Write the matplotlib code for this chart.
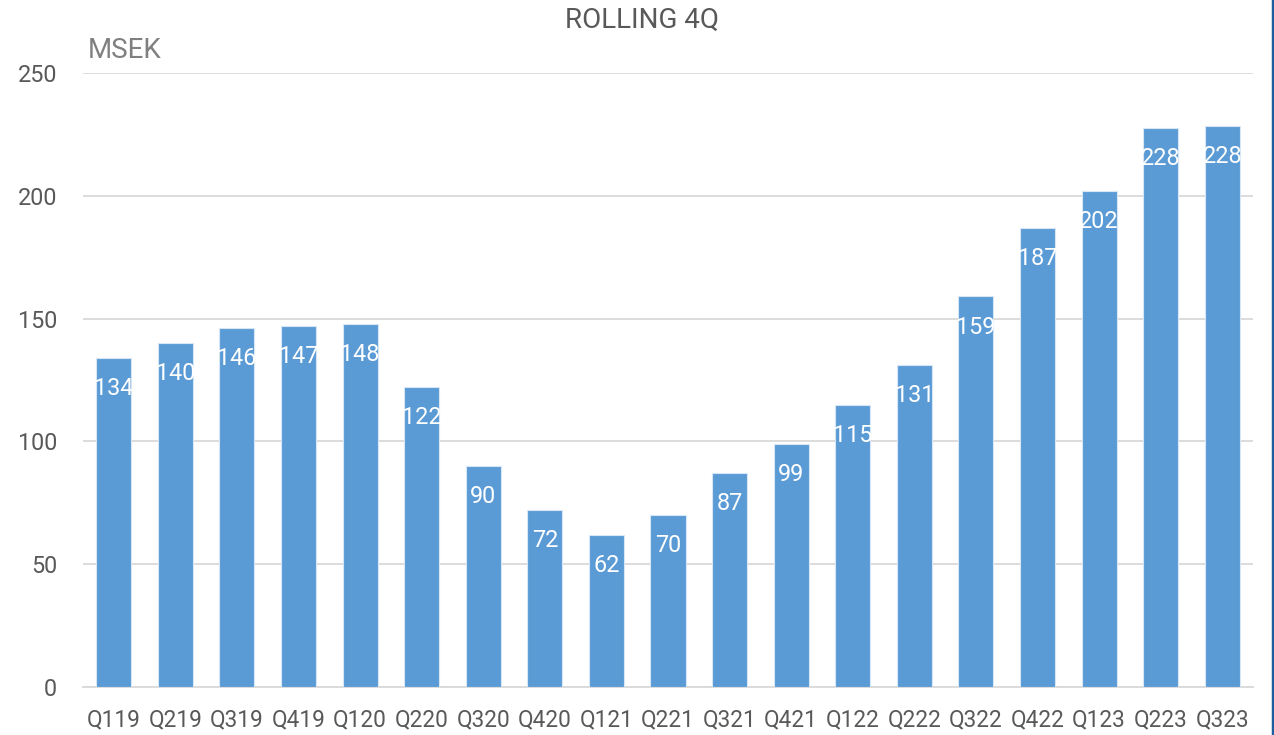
import matplotlib
matplotlib.use("Agg")
import matplotlib.pyplot as plt
from matplotlib.lines import Line2D

categories = ["Q119", "Q219", "Q319", "Q419", "Q120", "Q220", "Q320", "Q420", "Q121",
              "Q221", "Q321", "Q421", "Q122", "Q222", "Q322", "Q422", "Q123", "Q223", "Q323"]
values = [134, 140, 146, 147, 148, 122, 90, 72, 62, 70, 87, 99, 115, 131, 159, 187, 202, 227.6, 228.4]
yticks = [0, 50, 100, 150, 200, 250]

plt.rcParams["font.family"] = ["Roboto", "DejaVu Sans"]

W, H = 1274, 735
fig = plt.figure(figsize=(W / 100, H / 100), dpi=100)
ax = fig.add_axes([83 / W, 1 - 687 / H, (1253 - 83) / W, (687 - 73) / H])

x = list(range(len(categories)))
bars = ax.bar(x, values, width=0.57, color="#5B9BD5", edgecolor="#d6e6f5", linewidth=0.8, zorder=3)
ax.set_xlim(-0.5, len(categories) - 0.5)
ax.set_ylim(0, 250)
ax.set_yticks(yticks)
ax.set_xticks(x)
ax.set_xticklabels(categories)
ax.grid(axis="y", color="#d9d9d9", linewidth=1.3, zorder=0)
for s in ["top", "right", "left"]:
    ax.spines[s].set_visible(False)
ax.spines["bottom"].set_color("#d9d9d9")
ax.spines["bottom"].set_linewidth(1.3)
ax.tick_params(axis="both", length=0, colors="#595959")
ax.tick_params(axis="x", labelsize=16.3, pad=15)
ax.tick_params(axis="y", labelsize=16.8, pad=18.7)

for b, v in zip(bars, values):
    ax.annotate(f"{v:.0f}", (b.get_x() + b.get_width() / 2, v), xytext=(0, -22),
                textcoords="offset points", ha="center", va="center",
                color="white", fontsize=16.8, zorder=4)

fig.text(642 / W, 1 - 20 / H, "ROLLING 4Q", ha="center", va="center", fontsize=20, color="#595959")
fig.text(88 / W, 1 - 50 / H, "MSEK", ha="left", va="center", fontsize=20, color="#808080",
         bbox=dict(facecolor="white", edgecolor="none", pad=4), zorder=10)
fig.add_artist(Line2D([1272.5 / W, 1272.5 / W], [0, 1], color="#1f5f9f", linewidth=2.5,
                      transform=fig.transFigure))

fig.savefig("out.png", dpi=100)
